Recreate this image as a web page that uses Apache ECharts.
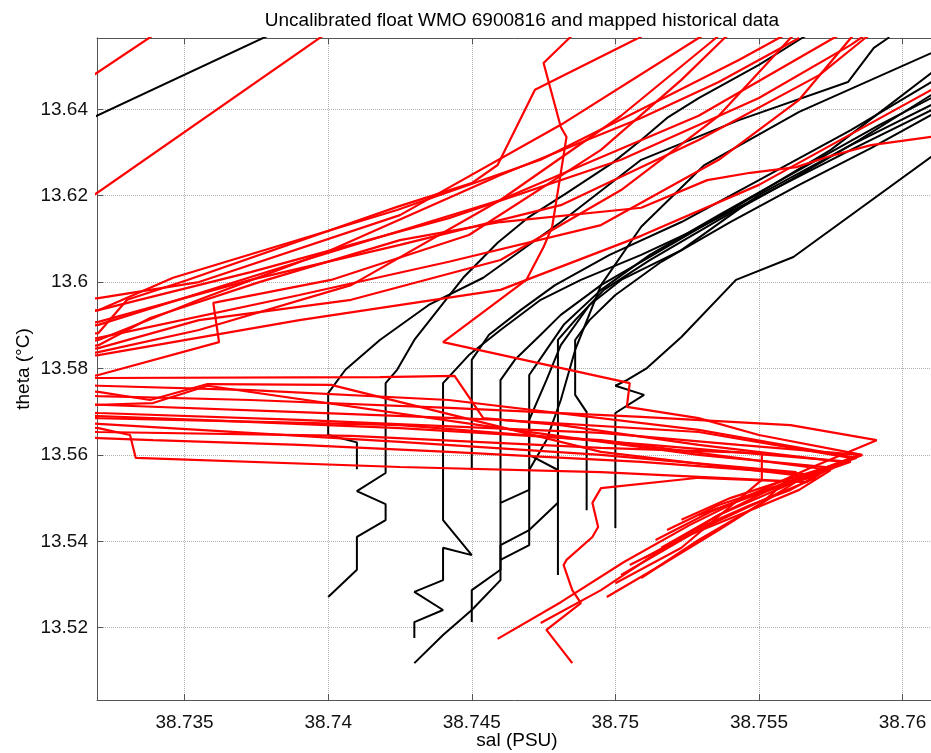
<!DOCTYPE html>
<html><head><meta charset="utf-8">
<script src="https://cdn.jsdelivr.net/npm/echarts@6/dist/echarts.min.js"></script>
<style>html,body{margin:0;padding:0;background:#fff}#c{width:931px;height:753px}</style>
</head><body><div id="c"></div>
<script>
const xTicks = [38.735, 38.74, 38.745, 38.75, 38.755, 38.76];
const yTicks = [13.52, 13.54, 13.56, 13.58, 13.6, 13.62, 13.64];

// float profiles (black), [sal, theta]
const k00 = [[38.7305,13.6340],[38.7395,13.6620]];
const k01 = [[38.740,13.5271],[38.741,13.5334],[38.741,13.5410],[38.742,13.5449],[38.742,13.5486],[38.741,13.5516],[38.742,13.5558],[38.742,13.5766],[38.7424,13.5797],[38.7430,13.5866],[38.7447,13.6010],[38.7459,13.6091],[38.7470,13.6151],[38.7483,13.6206],[38.7499,13.6276],[38.7509,13.6329],[38.7518,13.6380],[38.7529,13.6426],[38.7550,13.6503],[38.7565,13.6565],[38.7575,13.6602]];
const k02 = [[38.741,13.5567],[38.741,13.5629],[38.740,13.5646],[38.740,13.5743],[38.7406,13.5797],[38.7418,13.5866],[38.7435,13.5947],[38.7454,13.6010],[38.7481,13.6139],[38.7509,13.6283],[38.7543,13.6375],[38.7581,13.6463],[38.7590,13.6542],[38.7595,13.6565],[38.7597,13.6588]];
const k03 = [[38.743,13.5118],[38.744,13.5183],[38.745,13.5241],[38.746,13.5310],[38.746,13.5489],[38.747,13.5519],[38.747,13.5681],[38.7476,13.5773],[38.7481,13.5854],[38.7491,13.5947],[38.7502,13.6005],[38.7523,13.6074],[38.7550,13.6202],[38.7582,13.6317],[38.7610,13.6410],[38.7630,13.6479]];
const k04 = [[38.743,13.5176],[38.743,13.5213],[38.744,13.5241],[38.743,13.5283],[38.744,13.5310],[38.744,13.5385],[38.745,13.5368],[38.744,13.5449],[38.744,13.5542],[38.744,13.5766],[38.7449,13.5831],[38.7460,13.5889],[38.7474,13.5959],[38.7488,13.6005],[38.7509,13.6063],[38.7529,13.6125],[38.7550,13.6197],[38.7582,13.6306],[38.7610,13.6398],[38.7630,13.6468]];
const k05 = [[38.745,13.5213],[38.745,13.5287],[38.746,13.5334],[38.746,13.5391],[38.747,13.5426],[38.748,13.5489],[38.748,13.5565],[38.747,13.5600],[38.747,13.5785],[38.7476,13.5843],[38.7482,13.5901],[38.7495,13.5982],[38.7512,13.6063],[38.7536,13.6155],[38.7564,13.6260],[38.7592,13.6364],[38.7610,13.6426],[38.7630,13.6496]];
const k06 = [[38.748,13.5322],[38.748,13.5866],[38.7486,13.5912],[38.7496,13.5982],[38.7512,13.6051],[38.7536,13.6144],[38.7561,13.6236],[38.7585,13.6329],[38.7610,13.6433],[38.7630,13.6509]];
const k07 = [[38.749,13.5472],[38.749,13.5699],[38.7486,13.5739],[38.7486,13.5866],[38.7491,13.5912],[38.7500,13.5970],[38.7516,13.6047],[38.7540,13.6139],[38.7564,13.6225],[38.7589,13.6310],[38.7610,13.6387],[38.7630,13.6456]];
const k08 = [[38.750,13.5431],[38.750,13.5697],[38.751,13.5739],[38.750,13.5760],[38.7504,13.5773],[38.7511,13.5801],[38.7523,13.5873],[38.7542,13.6005],[38.7562,13.6058],[38.7610,13.6290],[38.7630,13.6380]];
const k09 = [[38.745,13.5565],[38.745,13.5820],[38.7456,13.5878],[38.7467,13.5935],[38.7479,13.5993],[38.7498,13.6063],[38.7523,13.6139],[38.7550,13.6236],[38.7582,13.6352],[38.7610,13.6463],[38.7630,13.6533]];
const k10 = [[38.746,13.5489],[38.746,13.5773],[38.7465,13.5820],[38.7474,13.5878],[38.7481,13.5924],[38.7495,13.5993],[38.7516,13.6074],[38.7543,13.6178],[38.7575,13.6306],[38.7610,13.6484],[38.7630,13.6560]];
const k11 = [[38.746,13.5357],[38.747,13.5391],[38.747,13.5565],[38.7476,13.5634],[38.7481,13.5727],[38.7486,13.5843],[38.7495,13.5993],[38.7509,13.6128],[38.7531,13.6271],[38.7564,13.6394],[38.7610,13.6530],[38.7630,13.6595]];

// mapped historical profiles (red), [sal, theta]
const h00 = [[38.7305,13.6420],[38.7350,13.6620]];
const h01 = [[38.7305,13.6139],[38.7405,13.6602]];
const h02 = [[38.7459,13.5174],[38.7481,13.5259],[38.7503,13.5352],[38.7526,13.5438],[38.7547,13.5507],[38.7568,13.5570],[38.7591,13.5634],[38.7561,13.5669],[38.7509,13.5688],[38.7442,13.5709],[38.7373,13.5727],[38.7320,13.5736],[38.7300,13.5741],[38.7300,13.5878],[38.7320,13.5901],[38.7390,13.6047],[38.7460,13.6190],[38.7529,13.6385],[38.7576,13.6565],[38.7589,13.6607]];
const h03 = [[38.7474,13.5211],[38.7495,13.5287],[38.7516,13.5380],[38.7536,13.5461],[38.7557,13.5530],[38.7585,13.5600],[38.7543,13.5623],[38.7495,13.5651],[38.7390,13.5681],[38.7320,13.5697],[38.7300,13.5704],[38.7300,13.5947],[38.7320,13.5963],[38.7355,13.6000],[38.7425,13.6155],[38.7481,13.6364],[38.7529,13.6565],[38.7540,13.6607]];
const h04 = [[38.7485,13.5118],[38.7476,13.5195],[38.7488,13.5257],[38.7485,13.5287],[38.7482,13.5345],[38.7483,13.5357],[38.7492,13.5410],[38.7494,13.5433],[38.7492,13.5489],[38.7495,13.5523],[38.7529,13.5547],[38.7567,13.5537],[38.7495,13.5560],[38.7425,13.5572],[38.7333,13.5593],[38.7331,13.5646],[38.7320,13.5662],[38.7300,13.5669],[38.7300,13.5815],[38.7320,13.5838],[38.7355,13.5889],[38.7408,13.5993],[38.7460,13.6190],[38.7502,13.6385],[38.7535,13.6565],[38.7543,13.6607]];
const h05 = [[38.7497,13.5271],[38.7516,13.5345],[38.7536,13.5426],[38.7551,13.5489],[38.7563,13.5560],[38.7495,13.5600],[38.7425,13.5630],[38.7355,13.5658],[38.7320,13.5672],[38.7300,13.5678],[38.7300,13.5762],[38.7320,13.5785],[38.7362,13.5861],[38.7360,13.5952],[38.7401,13.6005],[38.7449,13.6109],[38.7495,13.6306],[38.7523,13.6468],[38.7538,13.6565],[38.7547,13.6607]];
const h06 = [[38.7500,13.5303],[38.7523,13.5385],[38.7551,13.5542],[38.7551,13.5604],[38.7495,13.5616],[38.7408,13.5644],[38.7320,13.5653],[38.7300,13.5658],[38.7300,13.5917],[38.7320,13.5935],[38.7346,13.6010],[38.7424,13.6167],[38.7474,13.6283],[38.7512,13.6410],[38.7543,13.6514],[38.7557,13.6565],[38.7564,13.6588]];
const h07 = [[38.7509,13.5315],[38.7529,13.5403],[38.7550,13.5484],[38.7564,13.5542],[38.7586,13.5600],[38.7550,13.5646],[38.7529,13.5685],[38.7504,13.5711],[38.7505,13.5766],[38.7440,13.5861],[38.7469,13.6005],[38.7475,13.6081],[38.7478,13.6128],[38.7483,13.6336],[38.7481,13.6359],[38.7475,13.6507],[38.7484,13.6565],[38.7491,13.6607]];
const h08 = [[38.7510,13.5361],[38.7529,13.5431],[38.7547,13.5484],[38.7561,13.5519],[38.7579,13.5584],[38.7529,13.5623],[38.7481,13.5669],[38.7454,13.5685],[38.7444,13.5783],[38.7418,13.5780],[38.7320,13.5778],[38.7300,13.5778],[38.7300,13.5866],[38.7320,13.5882],[38.7330,13.5959],[38.7351,13.6005],[38.7424,13.6174],[38.7450,13.6229],[38.7459,13.6271],[38.7472,13.6445],[38.7508,13.6565],[38.7523,13.6618]];
const h09 = [[38.7514,13.5403],[38.7533,13.5468],[38.7550,13.5514],[38.7571,13.5553],[38.7509,13.5584],[38.7442,13.5607],[38.7390,13.5623],[38.7339,13.5634],[38.7320,13.5639],[38.7300,13.5644],[38.7300,13.5917],[38.7320,13.5935],[38.7373,13.6023],[38.7442,13.6148],[38.7502,13.6283],[38.7550,13.6426],[38.7582,13.6549],[38.7592,13.6595]];
const h10 = [[38.7518,13.5426],[38.7536,13.5484],[38.7554,13.5523],[38.7576,13.5570],[38.7529,13.5600],[38.7460,13.5662],[38.7358,13.5760],[38.7339,13.5720],[38.7320,13.5716],[38.7300,13.5713],[38.7300,13.5843],[38.7320,13.5866],[38.7355,13.5959],[38.7401,13.6074],[38.7460,13.6248],[38.7509,13.6380],[38.7536,13.6463],[38.7564,13.6565]];
const h11 = [[38.7523,13.5450],[38.7540,13.5500],[38.7557,13.5537],[38.7584,13.5593],[38.7529,13.5658],[38.7442,13.5727],[38.7373,13.5750],[38.7320,13.5760],[38.7300,13.5762],[38.7300,13.5838],[38.7320,13.5854],[38.7338,13.5917],[38.7376,13.6000],[38.7425,13.6097],[38.7460,13.6139],[38.7509,13.6172],[38.7532,13.6236],[38.7547,13.6253],[38.7563,13.6266],[38.7574,13.6290],[38.7589,13.6317],[38.7610,13.6336],[38.7630,13.6352]];
const h12 = [[38.7529,13.5461],[38.7554,13.5519],[38.7582,13.5584],[38.7512,13.5623],[38.7425,13.5669],[38.7320,13.5685],[38.7300,13.5690],[38.7300,13.5820],[38.7320,13.5831],[38.7390,13.5912],[38.7460,13.5982],[38.7509,13.6107],[38.7550,13.6225],[38.7610,13.6445],[38.7630,13.6514]];
const h13 = [[38.7516,13.5385],[38.7536,13.5461],[38.7561,13.5533],[38.7582,13.5593],[38.7529,13.5653],[38.7460,13.5681],[38.7390,13.5699],[38.7320,13.5716],[38.7300,13.5720],[38.7300,13.5889],[38.7320,13.5908],[38.7373,13.6005],[38.7425,13.6086],[38.7481,13.6178],[38.7529,13.6329],[38.7571,13.6479],[38.7587,13.6565],[38.7596,13.6602]];
const h14 = [[38.7505,13.5345],[38.7526,13.5415],[38.7547,13.5472],[38.7564,13.5519],[38.7575,13.5565],[38.7495,13.5634],[38.7425,13.5662],[38.7355,13.5681],[38.7320,13.5690],[38.7300,13.5692],[38.7300,13.5854],[38.7320,13.5871],[38.7390,13.5970],[38.7442,13.6047],[38.7495,13.6132],[38.7536,13.6283],[38.7564,13.6422],[38.7582,13.6565],[38.7589,13.6618]];
const h15 = [[38.7502,13.5322],[38.7529,13.5426],[38.7554,13.5503],[38.7570,13.5547],[38.7495,13.5607],[38.7401,13.5762],[38.7358,13.5764],[38.7338,13.5727],[38.7320,13.5746],[38.7300,13.5750],[38.7300,13.5831],[38.7320,13.5847],[38.7355,13.5912],[38.7408,13.5959],[38.7460,13.6051],[38.7502,13.6213],[38.7536,13.6385],[38.7561,13.6565],[38.7568,13.6607]];

const floatProfiles = [k00,k01,k02,k03,k04,k05,k06,k07,k08,k09,k10,k11];
const histProfiles = [h00,h01,h02,h03,h04,h05,h06,h07,h08,h09,h10,h11,h12,h13,h14,h15];

const xMin = 38.73195, xMax = 38.76120;
const yMin = 13.50326, yMax = 13.65650;
const fmt = v => String(+(+v).toFixed(3));
const FONT = '"Liberation Sans", Arial, sans-serif';

const series = [];
floatProfiles.forEach(p => series.push({
  type: 'line', data: p, symbol: 'none', clip: true, animation: false,
  lineStyle: { color: '#000000', width: 2 }, z: 2
}));
histProfiles.forEach(p => series.push({
  type: 'line', data: p, symbol: 'none', clip: true, animation: false,
  lineStyle: { color: '#ff0000', width: 2.2 }, z: 3
}));

const chart = echarts.init(document.getElementById('c'), null, { renderer: 'canvas' });
chart.setOption({
  backgroundColor: '#ffffff',
  animation: false,
  title: {
    text: 'Uncalibrated float WMO 6900816 and mapped historical data',
    left: 517, textAlign: 'center', top: 6,
    textStyle: { fontFamily: FONT, fontSize: 19, fontWeight: 'normal', color: '#000' }
  },
  grid: { left: 97, right: -6, top: 38, bottom: 53, containLabel: false, outerBoundsMode: 'none' },
  xAxis: [{
    type: 'value', min: xMin, max: xMax, position: 'bottom',
    name: 'sal (PSU)', nameLocation: 'middle', nameGap: 31, nameMoveOverlap: false,
    nameTextStyle: { fontFamily: FONT, fontSize: 19, color: '#000' },
    axisLine: { show: true, onZero: false, lineStyle: { color: '#555', width: 1 } },
    axisTick: { show: true, inside: true, length: 6, customValues: xTicks, lineStyle: { color: '#555' } },
    axisLabel: { customValues: xTicks, formatter: fmt, margin: 13, fontFamily: FONT, fontSize: 19, color: '#111' },
    splitLine: { show: true, lineStyle: { type: 'dotted', color: '#b0b0b0', width: 1 } }
  }, {
    type: 'value', min: xMin, max: xMax, position: 'top',
    axisLine: { show: true, onZero: false, lineStyle: { color: '#555', width: 1 } },
    axisTick: { show: true, inside: true, length: 6, customValues: xTicks, lineStyle: { color: '#555' } },
    axisLabel: { show: false }, splitLine: { show: false }
  }],
  yAxis: [{
    type: 'value', min: yMin, max: yMax, position: 'left',
    name: 'theta (°C)', nameLocation: 'middle', nameGap: 64, nameRotate: 90, nameMoveOverlap: false,
    nameTextStyle: { fontFamily: FONT, fontSize: 19, color: '#000' },
    axisLine: { show: true, onZero: false, lineStyle: { color: '#555', width: 1 } },
    axisTick: { show: true, inside: true, length: 6, customValues: yTicks, lineStyle: { color: '#555' } },
    axisLabel: { customValues: yTicks, formatter: fmt, margin: 9, fontFamily: FONT, fontSize: 19, color: '#111' },
    splitLine: { show: true, lineStyle: { type: 'dotted', color: '#b0b0b0', width: 1 } }
  }],
  series: series
});
</script>
</body></html>
